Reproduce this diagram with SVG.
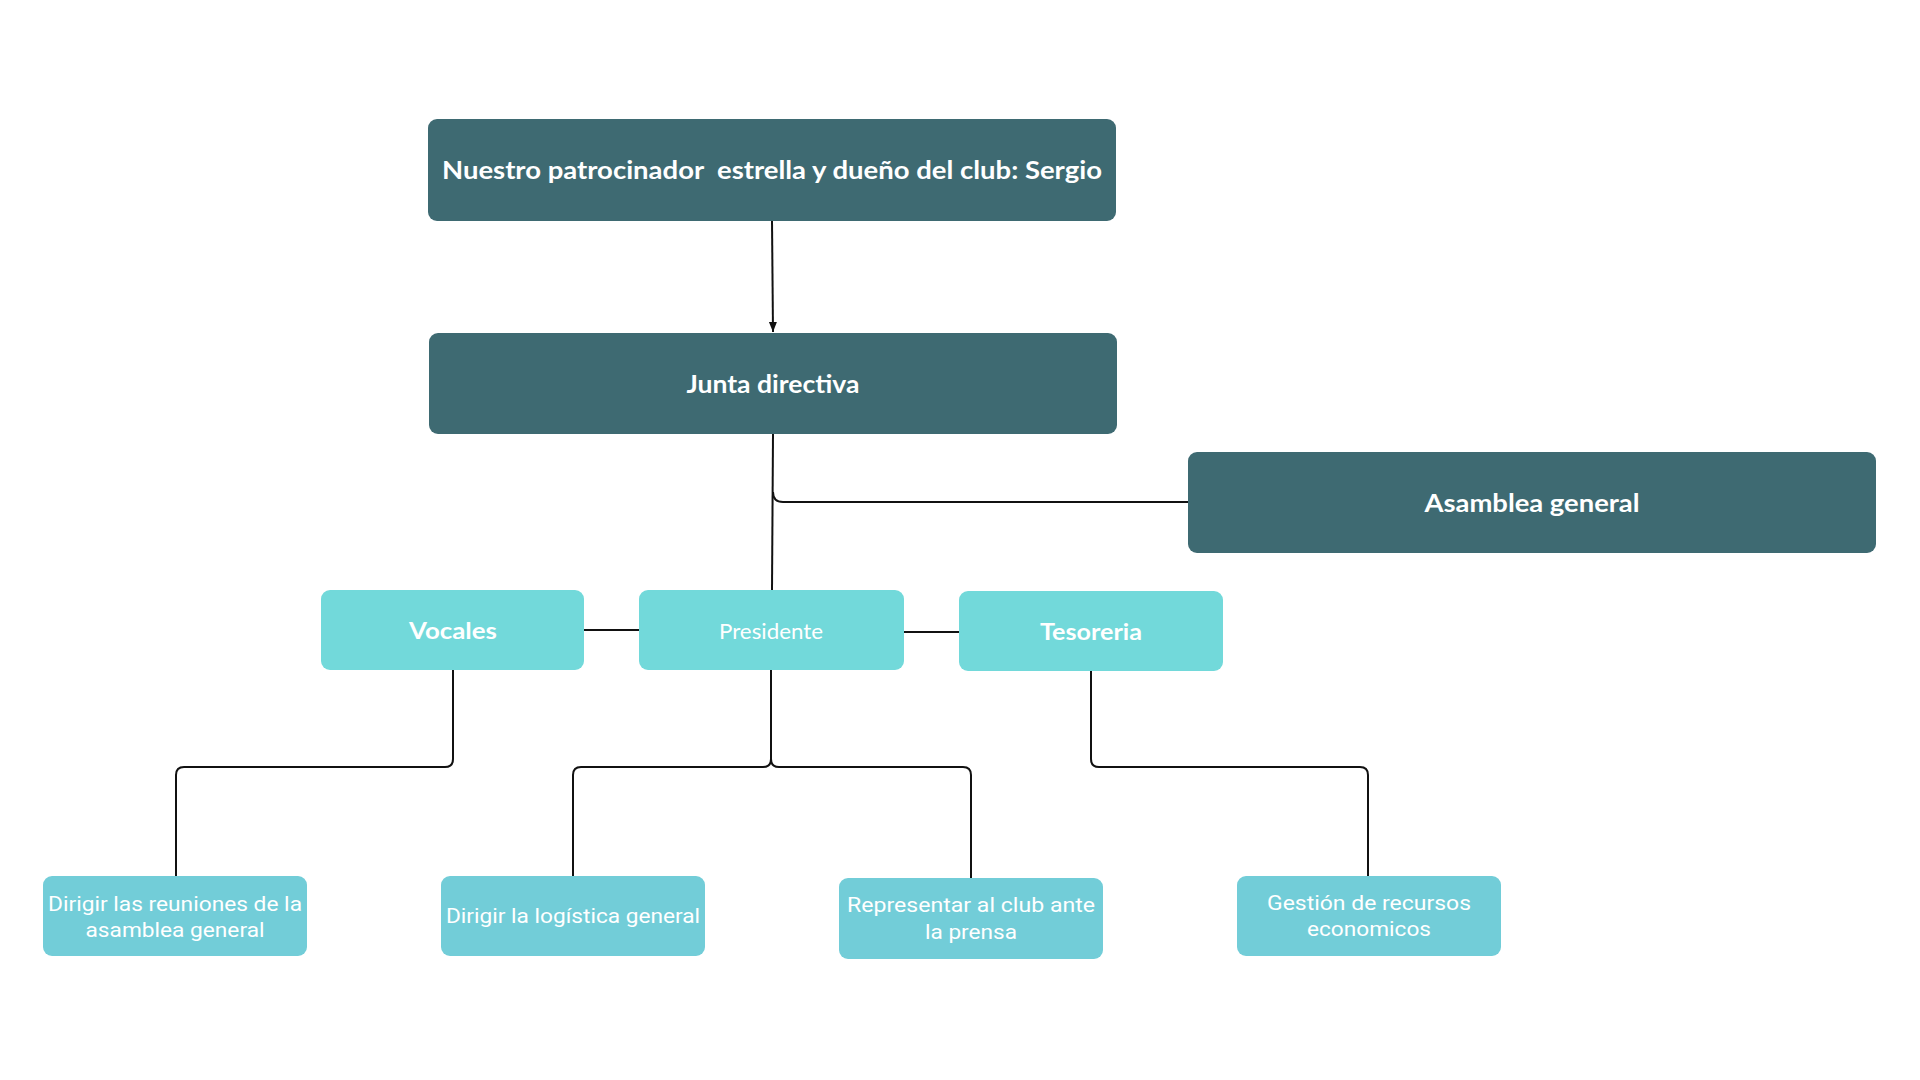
<svg xmlns="http://www.w3.org/2000/svg" width="1920" height="1080" viewBox="0 0 1920 1080">
<defs>
<style>
.dark{fill:#3E6A72;}
.mid{fill:#72D9DA;}
.low{fill:#72CDD8;}
.tb{font-family:Lato,"Open Sans",sans-serif;font-weight:bold;fill:#FFFFFF;text-anchor:middle;dominant-baseline:central;}
.tr{font-family:Lato,"Open Sans",sans-serif;font-weight:normal;fill:#FFFFFF;text-anchor:middle;dominant-baseline:central;}
.tn{font-family:Roboto,"Noto Sans",sans-serif;font-weight:normal;fill:#FFFFFF;text-anchor:middle;dominant-baseline:central;font-size:21px;}
.c{fill:none;stroke:#111111;stroke-width:2;}
</style>
<marker id="arr" viewBox="0 0 10 10" refX="10" refY="5" markerWidth="5" markerHeight="5" orient="auto">
<path d="M0,1 L10,5 L0,9 Z" fill="#111111"/>
</marker>
</defs>
<rect width="1920" height="1080" fill="#FFFFFF"/>
<g id="connectors">
<path class="c" d="M772,221 L773,332" marker-end="url(#arr)"/>
<path class="c" d="M773,434 L772,590"/>
<path class="c" d="M773,492 Q773,502 783,502 L1188,502"/>
<path class="c" d="M584,630 L639,630"/>
<path class="c" d="M904,632 L959,632"/>
<path class="c" d="M453,670 L453,759 Q453,767 445,767 L184,767 Q176,767 176,775 L176,876"/>
<path class="c" d="M771,670 L771,759 Q771,767 763,767 L581,767 Q573,767 573,775 L573,876"/>
<path class="c" d="M771,759 Q771,767 779,767 L963,767 Q971,767 971,775 L971,878"/>
<path class="c" d="M1091,671 L1091,759 Q1091,767 1099,767 L1360,767 Q1368,767 1368,775 L1368,876"/>
</g>
<g id="node-sponsor">
<rect class="dark" x="428" y="119" width="688" height="102" rx="9"/>
<text class="tb" x="772" y="169" font-size="24" textLength="660" lengthAdjust="spacingAndGlyphs" style="white-space:pre" xml:space="preserve">Nuestro patrocinador  estrella y dueño del club: Sergio</text>
</g>
<g id="node-junta">
<rect class="dark" x="429" y="333" width="688" height="101" rx="9"/>
<text class="tb" x="773" y="383" font-size="24" textLength="173" lengthAdjust="spacingAndGlyphs">Junta directiva</text>
</g>
<g id="node-asamblea">
<rect class="dark" x="1188" y="452" width="688" height="101" rx="9"/>
<text class="tb" x="1532" y="502" font-size="24" textLength="215" lengthAdjust="spacingAndGlyphs">Asamblea general</text>
</g>
<g id="node-vocales">
<rect class="mid" x="321" y="590" width="263" height="80" rx="9"/>
<text class="tb" x="453" y="630" font-size="23" textLength="88" lengthAdjust="spacingAndGlyphs">Vocales</text>
</g>
<g id="node-presidente">
<rect class="mid" x="639" y="590" width="265" height="80" rx="9"/>
<text class="tr" x="771" y="630" font-size="22" textLength="104" lengthAdjust="spacingAndGlyphs">Presidente</text>
</g>
<g id="node-tesoreria">
<rect class="mid" x="959" y="591" width="264" height="80" rx="9"/>
<text class="tb" x="1091" y="631" font-size="23" textLength="102" lengthAdjust="spacingAndGlyphs">Tesoreria</text>
</g>
<g id="node-reuniones">
<rect class="low" x="43" y="876" width="264" height="80" rx="9"/>
<text class="tn" x="175" y="904" textLength="254" lengthAdjust="spacingAndGlyphs">Dirigir las reuniones de la</text>
<text class="tn" x="175" y="930" textLength="179" lengthAdjust="spacingAndGlyphs">asamblea general</text>
</g>
<g id="node-logistica">
<rect class="low" x="441" y="876" width="264" height="80" rx="9"/>
<text class="tn" x="573" y="916" textLength="254" lengthAdjust="spacingAndGlyphs">Dirigir la logística general</text>
</g>
<g id="node-prensa">
<rect class="low" x="839" y="878" width="264" height="81" rx="9"/>
<text class="tn" x="971" y="905" textLength="248" lengthAdjust="spacingAndGlyphs">Representar al club ante</text>
<text class="tn" x="971" y="932" textLength="92" lengthAdjust="spacingAndGlyphs">la prensa</text>
</g>
<g id="node-recursos">
<rect class="low" x="1237" y="876" width="264" height="80" rx="9"/>
<text class="tn" x="1369" y="903" textLength="204" lengthAdjust="spacingAndGlyphs">Gestión de recursos</text>
<text class="tn" x="1369" y="929" textLength="124" lengthAdjust="spacingAndGlyphs">economicos</text>
</g>
</svg>
